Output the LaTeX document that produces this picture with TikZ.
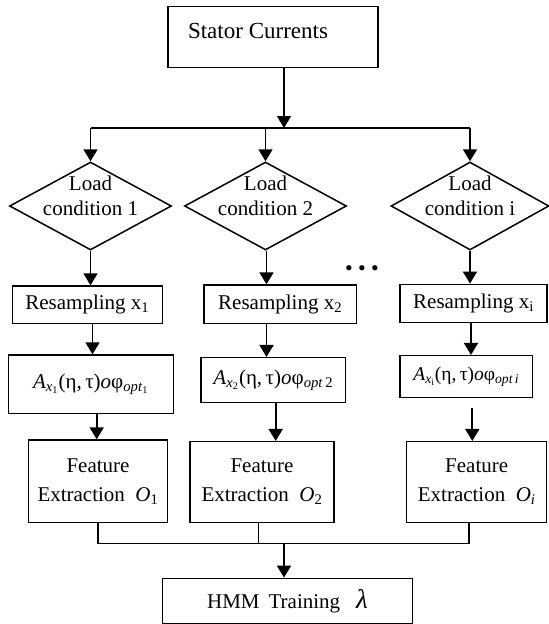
\documentclass[tikz,border=0pt]{standalone}
\usepackage{fontspec}
\setmainfont{Liberation Serif}
\usetikzlibrary{arrows.meta,shapes.geometric}

\begin{document}
\begin{tikzpicture}[x=1pt,y=-1pt,>={Triangle[length=12pt,width=14pt]},
  font=\fontsize{21}{25}\selectfont,
  box/.style={draw,line width=1.5pt,inner sep=0pt,align=center},
  cond/.style={draw,diamond,line width=1.5pt,minimum width=162pt,minimum height=88pt,inner sep=0pt},
  flow/.style={->,line width=1.8pt},
  wire/.style={line width=1.5pt}]
\useasboundingbox (0,0) rectangle (549,624);
% source
\node[box,minimum width=210pt,minimum height=61pt,
  label={[font=\fontsize{23}{25}\selectfont,xshift=-15pt,yshift=6pt]center:Stator Currents}] (stator) at (273,37.2) {};
\coordinate (split) at (284,128);
% load conditions
\node[cond,label={[align=center,yshift=10.5pt]center:Load\\condition 1}] (d1) at (90.5,206) {};
\node[cond,label={[align=center,yshift=10.5pt]center:Load\\condition 2}] (d2) at (265.5,206) {};
\node[cond,minimum width=158pt,label={[align=center,yshift=10.5pt]center:Load\\condition i}] (d3) at (470,206) {};
\node (dots) at (362,271) {\fontsize{22}{22}\selectfont\textbullet\hspace{5.3pt}\textbullet\hspace{5.3pt}\textbullet};
% resampling
\node[box,minimum width=150pt,minimum height=37.3pt] (r1) at (87.3,304.7) {Resampling x\textsubscript{1}};
\node[box,minimum width=152.3pt,minimum height=38.3pt] (r2) at (280.2,304.2) {Resampling x\textsubscript{2}};
\node[box,minimum width=147pt,minimum height=38.4pt] (r3) at (473.5,303.5) {Resampling x\textsubscript{i}};
% transforms
\node[box,minimum width=165pt,minimum height=58.3pt] (a1) at (90.8,384.2)
  {\textit{A}\textsubscript{\textit{x}\textsubscript{1}}(η,\,τ)\textit{o}φ\textsubscript{\textit{opt}\textsubscript{1}}};
\node[box,minimum width=144.7pt,minimum height=45pt] (a2) at (273.3,380.2)
  {\textit{A}\textsubscript{\textit{x}\textsubscript{2}}(η,\,τ)\textit{o}φ\textsubscript{\textit{opt}\,2}};
\node[box,minimum width=132.3pt,minimum height=42pt,font=\fontsize{19.5}{21}\selectfont] (a3) at (466.2,376.7)
  {\textit{A}\textsubscript{\textit{x}\textsubscript{i}}(η,\,τ)\textit{o}φ\textsubscript{\textit{opt\,i}}};
% features
\node[box,minimum width=139.4pt,minimum height=82.3pt] (f1) at (98,481.2) {Feature\\[4pt]Extraction\ \ \textit{O}\textsubscript{1}};
\node[box,minimum width=144pt,minimum height=80.6pt] (f2) at (262,482) {Feature\\[4pt]Extraction\ \ \textit{O}\textsubscript{2}};
\node[box,minimum width=140pt,minimum height=80.6pt] (f3) at (476.7,482) {Feature\\[4pt]Extraction\ \ \textit{O}\textsubscript{\textit{i}}};
\coordinate (merge) at (284,543.3);
% training
\node[box,minimum width=249.6pt,minimum height=45pt] (hmm) at (287.5,600.8)
  {HMM\hspace{9pt}Training\hspace{16pt}{\fontsize{27}{25}\selectfont\textit{λ}}};

\draw[flow] (stator.south -| split) -- (split);
\draw[wire] (split -| d1.north) -- (split -| d3.north);
\draw[flow] (split -| d1.north) -- (d1.north);
\draw[flow] (split -| d2.north) -- (d2.north);
\draw[flow] (split -| d3.north) -- (d3.north);
\draw[flow] (d1.south) -- (d1.south |- r1.north);
\draw[flow] ([xshift=1pt]d2.south) -- ([xshift=1pt]d2.south |- r2.north);
\draw[flow] (d3.south) -- (d3.south |- r3.north);
\draw[flow] ([xshift=2pt]d1.south |- r1.south) -- ([xshift=2pt]d1.south |- a1.north);
\draw[flow] ([xshift=1pt]d2.south |- r2.south) -- ([xshift=1pt]d2.south |- a2.north);
\draw[flow] ([xshift=1pt]d3.south |- r3.south) -- ([xshift=1pt]d3.south |- a3.north);
\draw[flow] ([xshift=-1.3pt]f1.north |- a1.south) -- ([xshift=-1.3pt]f1.north);
\draw[flow] ([xshift=2.4pt]a2.south) -- ([xshift=2.4pt]a2.south |- f2.north);
\draw[flow] ([xshift=-4.4pt,yshift=-10pt]f3.north |- a3.south) -- ([xshift=-4.4pt]f3.north);
\draw[wire] (f1.south) -- (f1.south |- merge) -- ([xshift=-7.7pt]f3.south |- merge) -- ([xshift=-7.7pt]f3.south);
\draw[wire] ([xshift=-3.7pt]f2.south) -- ([xshift=-3.7pt]f2.south |- merge);
\draw[flow] (merge) -- (merge |- hmm.north);
\end{tikzpicture}
\end{document}
